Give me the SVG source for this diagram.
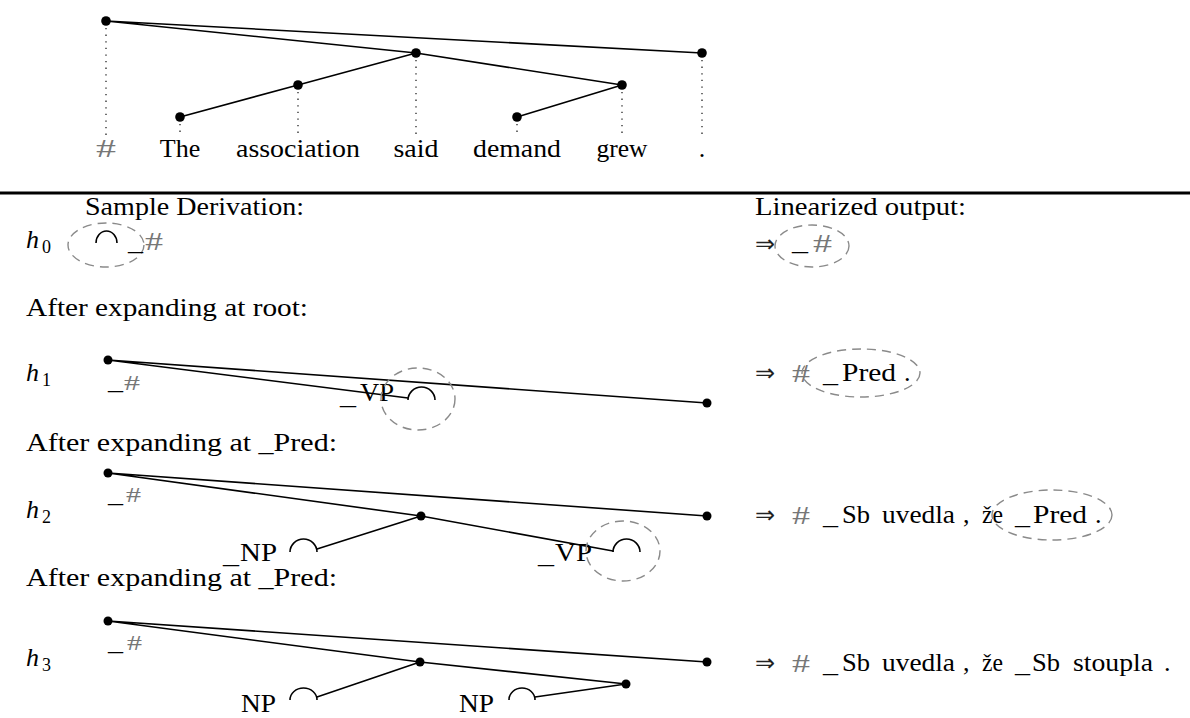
<svg xmlns="http://www.w3.org/2000/svg" width="1190" height="718" viewBox="0 0 1190 718">
<style>
.t{font-family:"Liberation Serif","Times New Roman",serif;font-size:26px;fill:#000}
.i{font-style:italic}
.s{font-size:18px}
.gr{fill:#777}
.sm{font-size:20px}
.ar{font-family:"DejaVu Sans",sans-serif;font-size:24px;fill:#222}
.e{stroke:#000;stroke-width:1.6;fill:none;stroke-linecap:round}
.d{stroke:#333;stroke-width:1.4;stroke-dasharray:1.3 5.3;fill:none}
.el{fill:none;stroke:#8a8a8a;stroke-width:1.4;stroke-dasharray:9 6}
.arc{fill:none;stroke:#000;stroke-width:1.6}
.n{fill:#000}
</style>
<rect width="1190" height="718" fill="#fff"/>

<!-- connectors -->
<g id="connectors">
  <path class="e" d="M106,21 L416,53 M106,21 L702,53 M416,53 L298,85 M416,53 L622,85 M298,85 L180,117 M622,85 L517,117"/>
  <path class="d" d="M106,28 V136 M180,124 V136 M298,92 V136 M416,60 V136 M517,124 V136 M622,92 V136 M702,60 V136"/>
  <path class="e" d="M108,360 L707,403 M108,360 L408,398"/>
  <path class="e" d="M108,473 L707,516 M108,473 L421,516 M421,516 L317,549 M421,516 L613,551"/>
  <path class="e" d="M108,621 L707,662 M108,621 L420,662 M420,662 L626,684 M420,662 L317,697 M626,684 L535,697"/>
</g>

<!-- top dependency tree -->
<g id="top-root"><circle class="n" cx="106" cy="21" r="4.8"/><text class="t gr" x="106" y="157" text-anchor="middle" textLength="20" lengthAdjust="spacingAndGlyphs">#</text></g>
<g id="top-the"><circle class="n" cx="180" cy="117" r="4.8"/><text class="t" x="180" y="157" text-anchor="middle">The</text></g>
<g id="top-association"><circle class="n" cx="298" cy="85" r="4.8"/><text class="t" x="298" y="157" text-anchor="middle" textLength="124" lengthAdjust="spacingAndGlyphs">association</text></g>
<g id="top-said"><circle class="n" cx="416" cy="53" r="4.8"/><text class="t" x="416" y="157" text-anchor="middle" textLength="45" lengthAdjust="spacingAndGlyphs">said</text></g>
<g id="top-demand"><circle class="n" cx="517" cy="117" r="4.8"/><text class="t" x="517" y="157" text-anchor="middle" textLength="88" lengthAdjust="spacingAndGlyphs">demand</text></g>
<g id="top-grew"><circle class="n" cx="622" cy="85" r="4.8"/><text class="t" x="622" y="157" text-anchor="middle" textLength="51" lengthAdjust="spacingAndGlyphs">grew</text></g>
<g id="top-period"><circle class="n" cx="702" cy="53" r="4.8"/><text class="t" x="702" y="157" text-anchor="middle">.</text></g>

<line x1="0" y1="193" x2="1190" y2="193" stroke="#000" stroke-width="3"/>

<text class="t" x="85" y="215" textLength="219" lengthAdjust="spacingAndGlyphs">Sample Derivation:</text>
<text class="t" x="755" y="215" textLength="211" lengthAdjust="spacingAndGlyphs">Linearized output:</text>

<!-- h0 -->
<g id="h0">
  <text class="t i" x="26" y="248">h</text><text class="t s" x="42" y="253">0</text>
  <ellipse class="el" cx="106" cy="245" rx="38" ry="22"/>
  <path class="arc" d="M96,243 A10.5,12 0 0 1 117,243"/>
  <text class="t" x="128" y="250" textLength="15" lengthAdjust="spacingAndGlyphs">_</text>
  <text class="t gr" x="145" y="250" textLength="18" lengthAdjust="spacingAndGlyphs">#</text>
</g>
<g id="out0">
  <text class="ar" x="755" y="252">⇒</text>
  <text class="t" x="792" y="250" textLength="16" lengthAdjust="spacingAndGlyphs">_</text>
  <text class="t gr" x="813" y="252" textLength="19" lengthAdjust="spacingAndGlyphs">#</text>
  <ellipse class="el" cx="812" cy="246" rx="37" ry="21"/>
</g>

<text class="t" x="26" y="316" textLength="282" lengthAdjust="spacingAndGlyphs">After expanding at root:</text>

<!-- h1 -->
<g id="h1">
  <text class="t i" x="26" y="381">h</text><text class="t s" x="42" y="386">1</text>
  <circle class="n" cx="108" cy="360" r="4.5"/>
  <circle class="n" cx="707" cy="403" r="4.5"/>
  <text class="t" x="108" y="389" textLength="15" lengthAdjust="spacingAndGlyphs">_</text>
  <text class="t gr sm" x="124" y="390" textLength="16" lengthAdjust="spacingAndGlyphs">#</text>
  <text class="t" x="340" y="404" textLength="16" lengthAdjust="spacingAndGlyphs">_</text>
  <text class="t" x="360" y="401" textLength="34" lengthAdjust="spacingAndGlyphs">VP</text>
  <path class="arc" d="M408,400 A13.5,13 0 0 1 435,400"/>
  <ellipse class="el" cx="418" cy="399" rx="37" ry="31"/>
</g>
<g id="out1">
  <text class="ar" x="755" y="381">⇒</text>
  <text class="t gr" x="792" y="382" textLength="18" lengthAdjust="spacingAndGlyphs">#</text>
  <text class="t" x="823" y="382" textLength="15" lengthAdjust="spacingAndGlyphs">_</text>
  <text class="t" x="842" y="381" textLength="54" lengthAdjust="spacingAndGlyphs">Pred</text>
  <text class="t" x="904" y="381">.</text>
  <ellipse class="el" cx="861" cy="373" rx="59" ry="24"/>
</g>

<text class="t" x="26" y="451" textLength="311" lengthAdjust="spacingAndGlyphs">After expanding at _Pred:</text>

<!-- h2 -->
<g id="h2">
  <text class="t i" x="26" y="518">h</text><text class="t s" x="42" y="523">2</text>
  <circle class="n" cx="108" cy="473" r="4.5"/>
  <circle class="n" cx="421" cy="516" r="4.5"/>
  <circle class="n" cx="707" cy="516" r="4.5"/>
  <text class="t" x="108" y="502" textLength="15" lengthAdjust="spacingAndGlyphs">_</text>
  <text class="t gr sm" x="126" y="502" textLength="15" lengthAdjust="spacingAndGlyphs">#</text>
  <text class="t" x="223" y="563" textLength="16" lengthAdjust="spacingAndGlyphs">_</text>
  <text class="t" x="240" y="561" textLength="37" lengthAdjust="spacingAndGlyphs">NP</text>
  <path class="arc" d="M290,552 A13.5,13 0 0 1 317,552"/>
  <text class="t" x="538" y="563" textLength="16" lengthAdjust="spacingAndGlyphs">_</text>
  <text class="t" x="555" y="561" textLength="37" lengthAdjust="spacingAndGlyphs">VP</text>
  <path class="arc" d="M613,552 A13.5,13 0 0 1 640,552"/>
  <ellipse class="el" cx="623" cy="551" rx="37" ry="30"/>
</g>
<g id="out2">
  <text class="ar" x="755" y="523">⇒</text>
  <text class="t gr" x="792" y="524" textLength="18" lengthAdjust="spacingAndGlyphs">#</text>
  <text class="t" x="823" y="524" textLength="15" lengthAdjust="spacingAndGlyphs">_</text>
  <text class="t" x="842" y="523" textLength="28" lengthAdjust="spacingAndGlyphs">Sb</text>
  <text class="t" x="882" y="523" textLength="73" lengthAdjust="spacingAndGlyphs">uvedla</text>
  <text class="t" x="963" y="523">,</text>
  <text class="t" x="982" y="523" textLength="21" lengthAdjust="spacingAndGlyphs">že</text>
  <text class="t" x="1015" y="524" textLength="15" lengthAdjust="spacingAndGlyphs">_</text>
  <text class="t" x="1033" y="523" textLength="54" lengthAdjust="spacingAndGlyphs">Pred</text>
  <text class="t" x="1095" y="523">.</text>
  <ellipse class="el" cx="1052" cy="515" rx="60" ry="25"/>
</g>

<text class="t" x="26" y="586" textLength="311" lengthAdjust="spacingAndGlyphs">After expanding at _Pred:</text>

<!-- h3 -->
<g id="h3">
  <text class="t i" x="26" y="666">h</text><text class="t s" x="42" y="671">3</text>
  <circle class="n" cx="108" cy="621" r="4.5"/>
  <circle class="n" cx="420" cy="662" r="4.5"/>
  <circle class="n" cx="707" cy="662" r="4.5"/>
  <circle class="n" cx="626" cy="684" r="4.5"/>
  <text class="t" x="108" y="650" textLength="15" lengthAdjust="spacingAndGlyphs">_</text>
  <text class="t gr sm" x="127" y="650" textLength="15" lengthAdjust="spacingAndGlyphs">#</text>
  <text class="t" x="241" y="712" textLength="35" lengthAdjust="spacingAndGlyphs">NP</text>
  <path class="arc" d="M290,700 A13.5,12 0 0 1 317,700"/>
  <text class="t" x="459" y="712" textLength="35" lengthAdjust="spacingAndGlyphs">NP</text>
  <path class="arc" d="M509,700 A13,12 0 0 1 535,700"/>
</g>
<g id="out3">
  <text class="ar" x="755" y="671">⇒</text>
  <text class="t gr" x="792" y="672" textLength="18" lengthAdjust="spacingAndGlyphs">#</text>
  <text class="t" x="823" y="672" textLength="15" lengthAdjust="spacingAndGlyphs">_</text>
  <text class="t" x="842" y="671" textLength="28" lengthAdjust="spacingAndGlyphs">Sb</text>
  <text class="t" x="882" y="671" textLength="73" lengthAdjust="spacingAndGlyphs">uvedla</text>
  <text class="t" x="963" y="671">,</text>
  <text class="t" x="982" y="671" textLength="21" lengthAdjust="spacingAndGlyphs">že</text>
  <text class="t" x="1015" y="672" textLength="15" lengthAdjust="spacingAndGlyphs">_</text>
  <text class="t" x="1032" y="671" textLength="28" lengthAdjust="spacingAndGlyphs">Sb</text>
  <text class="t" x="1073" y="671" textLength="80" lengthAdjust="spacingAndGlyphs">stoupla</text>
  <text class="t" x="1164" y="671">.</text>
</g>
</svg>
